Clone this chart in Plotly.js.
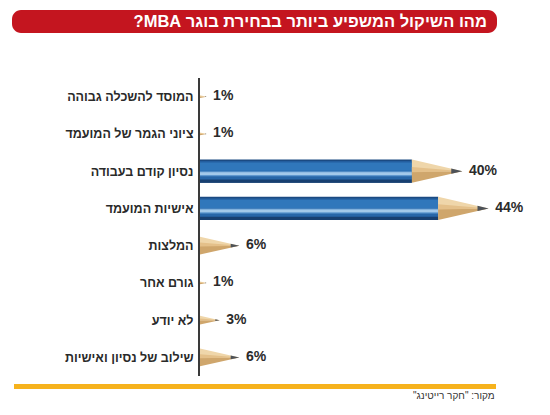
<!DOCTYPE html>
<html>
<head>
<meta charset="utf-8">
<script src="https://cdn.plot.ly/plotly-3.0.1.min.js"></script>
<style>html,body{margin:0;padding:0;background:#fff;}</style>
</head>
<body>
<div id="chart" style="width:550px;height:415px;"></div>
<script>
// ---- data ----
const categories = ['המוסד להשכלה גבוהה', 'ציוני הגמר של המועמד', 'נסיון קודם בעבודה', 'אישיות המועמד', 'המלצות', 'גורם אחר', 'לא יודע', 'שילוב של נסיון ואישיות'];
const values = [1, 1, 40, 44, 6, 1, 3, 6];
const valueLabels = values.map(v => v + '%');
const titleText = 'מהו השיקול המשפיע ביותר בבחירת בוגר MBA?';
const sourceText = 'מקור: "חקר רייטינג"';

// ---- layout constants ----
const W = 550, Hh = 415;
const M = {l: 200, r: 22, t: 78, b: 39};
const PW = W - M.l - M.r, PH = Hh - M.t - M.b;
const px = x => (x - M.l) / PW;
const py = y => (Hh - M.b - y) / PH;
const FONT = 'Liberation Sans, DejaVu Sans, sans-serif';
const RLE = '\u202B', PDF = '\u202C';

// pencil geometry (axis units)
const CONE = 7.7;     // cone length in %
const LEAD = 1.7;     // graphite length in %
const HALF = 0.31;    // half body height in category units

const idx = categories.map((_, i) => i);
const bodyLen = values.map(v => Math.max(v - CONE, 0));

// body stripes (fraction from top)
const stripes = [
  [0.00, 1.00, '#1b4a82'],
  [0.07, 0.88, '#2766a8'],
  [0.14, 0.48, '#3077bb'],
  [0.50, 0.72, '#5f98cf'],
  [0.55, 0.67, '#a3c9ea'],
  [0.86, 1.00, '#173f70']
];
const traces = stripes.map(s => ({
  type: 'bar', orientation: 'h', x: bodyLen, y: idx,
  width: 2 * HALF * (s[1] - s[0]), offset: -HALF + 2 * HALF * s[0],
  marker: {color: s[2], line: {width: 0}}, hoverinfo: 'skip', showlegend: false
}));

// value labels
traces.push({
  type: 'scatter', mode: 'text', x: values.map(v => v + 1.0), y: idx,
  text: valueLabels, textposition: 'middle right', cliponaxis: false,
  textfont: {family: FONT, size: 14, color: '#2b2b2b', weight: 700},
  hoverinfo: 'skip', showlegend: false
});

// cones via shapes built from the data
const shapes = [];
values.forEach((v, i) => {
  const cl = Math.min(v, CONE), k = cl / CONE, base = v - cl, h = HALF * k;
  const ll = LEAD * k, lh = h * ll / cl;
  shapes.push({type: 'path', xref: 'x', yref: 'y', layer: 'above',
    path: `M${base},${i - h} L${v},${i} L${base},${i} Z`,
    fillcolor: '#efd6aa', line: {width: 0}});
  shapes.push({type: 'path', xref: 'x', yref: 'y', layer: 'above',
    path: `M${base},${i} L${v},${i} L${base},${i + h} Z`,
    fillcolor: '#cfa66c', line: {width: 0}});
  shapes.push({type: 'path', xref: 'x', yref: 'y', layer: 'above',
    path: `M${base},${i - h * 0.35} L${v},${i} L${base},${i + h * 0.1} Z`,
    fillcolor: '#e4c08a', line: {width: 0}});
  shapes.push({type: 'path', xref: 'x', yref: 'y', layer: 'above',
    path: `M${v - ll},${i - lh} L${v},${i} L${v - ll},${i + lh} Z`,
    fillcolor: '#4d5258', line: {width: 0}});
});

// title banner (rounded) in paper coords
(function () {
  const x0 = 12, x1 = 497, y0 = 10, y1 = 33, r = 9;
  const P = (x, y) => `${px(x)},${py(y)}`;
  const path = `M${P(x0 + r, y0)} L${P(x1 - r, y0)} C${P(x1 - r * 0.45, y0)} ${P(x1, y0 + r * 0.45)} ${P(x1, y0 + r)} ` +
    `L${P(x1, y1 - r)} C${P(x1, y1 - r * 0.45)} ${P(x1 - r * 0.45, y1)} ${P(x1 - r, y1)} ` +
    `L${P(x0 + r, y1)} C${P(x0 + r * 0.45, y1)} ${P(x0, y1 - r * 0.45)} ${P(x0, y1 - r)} ` +
    `L${P(x0, y0 + r)} C${P(x0, y0 + r * 0.45)} ${P(x0 + r * 0.45, y0)} ${P(x0 + r, y0)} Z`;
  shapes.push({type: 'path', xref: 'paper', yref: 'paper', path: path, fillcolor: '#c4151f', line: {width: 0}, layer: 'above'});
})();
// bottom yellow rule
shapes.push({type: 'line', xref: 'paper', yref: 'paper', x0: px(14), x1: px(496), y0: py(386.5), y1: py(386.5),
  line: {color: '#f6b21d', width: 5}, layer: 'above'});

const layout = {
  width: W, height: Hh, margin: M,
  paper_bgcolor: '#ffffff', plot_bgcolor: '#ffffff',
  barmode: 'overlay', showlegend: false,
  title: {text: RLE + titleText + PDF, xref: 'container', yref: 'container',
    x: 487 / W, xanchor: 'right', y: 1 - 21.5 / Hh, yanchor: 'middle',
    font: {family: FONT, size: 16.5, color: '#ffffff', weight: 700}},
  xaxis: {range: [0, 50], visible: false, fixedrange: true},
  yaxis: {range: [7.5, -0.5], tickvals: idx, ticktext: categories, showgrid: false, zeroline: false,
    showline: true, linecolor: '#3a3a3a', linewidth: 2, ticks: '', ticklabelstandoff: 2,
    tickfont: {family: FONT, size: 12.5, color: '#2a2a2a', weight: 700}, fixedrange: true},
  shapes: shapes,
  annotations: [{text: RLE + sourceText + PDF, xref: 'paper', yref: 'paper', x: px(497), y: py(396),
    xanchor: 'right', yanchor: 'middle', showarrow: false,
    font: {family: FONT, size: 10, color: '#333333'}}]
};

Plotly.newPlot('chart', traces, layout, {displayModeBar: false, staticPlot: true});
</script>
</body>
</html>
